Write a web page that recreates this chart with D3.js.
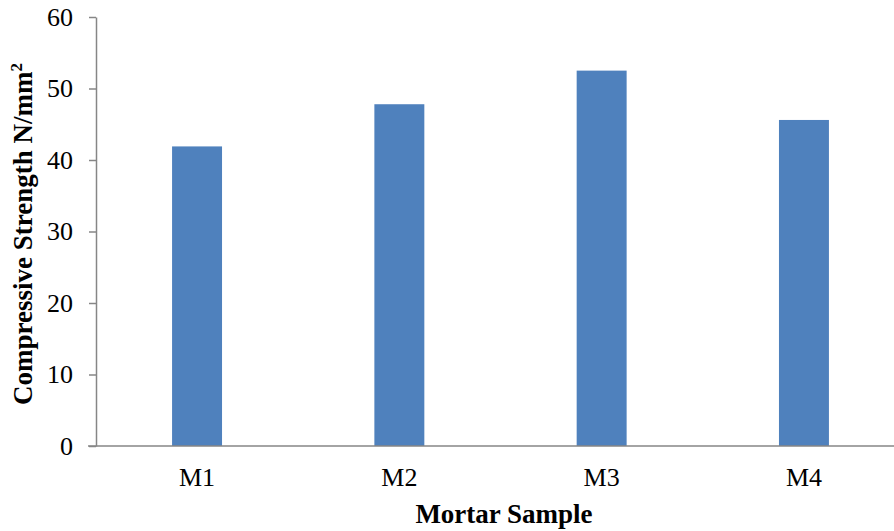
<!DOCTYPE html>
<html><head><meta charset="utf-8">
<script src="https://cdn.jsdelivr.net/npm/d3@7"></script>
<style>body{margin:0;background:#fff}svg{display:block}text{font-family:"Liberation Serif","Times New Roman",serif;fill:#000}</style>
</head><body><svg id="c" width="894" height="531"></svg>
<script>
const categories = ["M1","M2","M3","M4"];
const values = [41.9, 47.8, 52.5, 45.6];
const yTicks = [0,10,20,30,40,50,60];

const svg = d3.select("#c");
const x0 = 96, x1 = 905, yTop = 17, yBot = 446;
const x = d3.scaleBand().domain(categories).range([x0, x1]).paddingInner(0.753).paddingOuter(0.376);
const y = d3.scaleLinear().domain([0,60]).range([yBot, yTop]);

svg.selectAll("rect.bar").data(values).join("rect")
  .attr("class","bar")
  .attr("x",(d,i)=>x(categories[i]))
  .attr("width",x.bandwidth())
  .attr("y",d=>y(d))
  .attr("height",d=>y(0)-y(d))
  .attr("fill","#4f81bd");

const gy = svg.append("g").attr("transform",`translate(${x0},0)`)
  .call(d3.axisLeft(y).tickValues(yTicks).tickSize(7).tickPadding(16).tickSizeOuter(0));
gy.select(".domain").attr("stroke","#868686").attr("stroke-width",1.5);
gy.selectAll(".tick line").attr("stroke","#868686").attr("stroke-width",1.5);
gy.selectAll(".tick text").attr("font-size","26px").attr("font-family","Liberation Serif");

const gx = svg.append("g").attr("transform",`translate(0,${yBot})`)
  .call(d3.axisBottom(x).tickSize(0).tickPadding(22).tickSizeOuter(0));
gx.select(".domain").attr("stroke","#868686").attr("stroke-width",1.5).attr("d",`M88,0H${x1}`);
gx.selectAll(".tick text").attr("font-size","26px").attr("font-family","Liberation Serif");

svg.append("text").attr("x",504).attr("y",523).attr("text-anchor","middle")
  .attr("font-size","27px").attr("font-weight","bold").text("Mortar Sample");

const yt = svg.append("text").attr("transform","translate(32,234) rotate(-90)").attr("text-anchor","middle")
  .attr("font-size","27px").attr("font-weight","bold");
yt.append("tspan").text("Compressive Strength N/mm");
yt.append("tspan").attr("font-size","17px").attr("dy","-10").text("2");
</script></body></html>
